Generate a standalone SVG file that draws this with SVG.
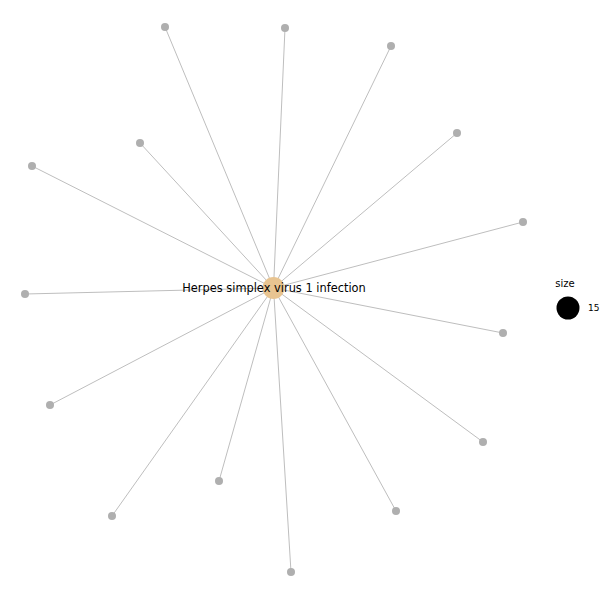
<svg xmlns="http://www.w3.org/2000/svg" width="600" height="600" viewBox="0 0 600 600">
<style>
.edge{stroke:#BEBEBE;stroke-width:1;fill:none}
.leaf{fill:#AFAFAF}
.hub{fill:#E8C491}
.lbl{font-family:"DejaVu Sans",sans-serif;font-size:11.4px;fill:#000}
.leg{font-family:"DejaVu Sans",sans-serif;fill:#000}
</style>
<rect width="600" height="600" fill="#fff"/>
<g id="edges">
<line class="edge" x1="273.5" y1="288" x2="165" y2="27"/>
<line class="edge" x1="273.5" y1="288" x2="285" y2="28"/>
<line class="edge" x1="273.5" y1="288" x2="391" y2="46"/>
<line class="edge" x1="273.5" y1="288" x2="457" y2="133"/>
<line class="edge" x1="273.5" y1="288" x2="523" y2="222"/>
<line class="edge" x1="273.5" y1="288" x2="503" y2="333"/>
<line class="edge" x1="273.5" y1="288" x2="483" y2="442"/>
<line class="edge" x1="273.5" y1="288" x2="396" y2="511"/>
<line class="edge" x1="273.5" y1="288" x2="291" y2="572"/>
<line class="edge" x1="273.5" y1="288" x2="219" y2="481"/>
<line class="edge" x1="273.5" y1="288" x2="112" y2="516"/>
<line class="edge" x1="273.5" y1="288" x2="50" y2="405"/>
<line class="edge" x1="273.5" y1="288" x2="25" y2="294"/>
<line class="edge" x1="273.5" y1="288" x2="32" y2="166"/>
<line class="edge" x1="273.5" y1="288" x2="140" y2="143"/>
</g>
<g id="n1"><circle class="leaf" cx="165" cy="27" r="4"/></g>
<g id="n2"><circle class="leaf" cx="285" cy="28" r="4"/></g>
<g id="n3"><circle class="leaf" cx="391" cy="46" r="4"/></g>
<g id="n4"><circle class="leaf" cx="457" cy="133" r="4"/></g>
<g id="n5"><circle class="leaf" cx="523" cy="222" r="4"/></g>
<g id="n6"><circle class="leaf" cx="503" cy="333" r="4"/></g>
<g id="n7"><circle class="leaf" cx="483" cy="442" r="4"/></g>
<g id="n8"><circle class="leaf" cx="396" cy="511" r="4"/></g>
<g id="n9"><circle class="leaf" cx="291" cy="572" r="4"/></g>
<g id="n10"><circle class="leaf" cx="219" cy="481" r="4"/></g>
<g id="n11"><circle class="leaf" cx="112" cy="516" r="4"/></g>
<g id="n12"><circle class="leaf" cx="50" cy="405" r="4"/></g>
<g id="n13"><circle class="leaf" cx="25" cy="294" r="4"/></g>
<g id="n14"><circle class="leaf" cx="32" cy="166" r="4"/></g>
<g id="n15"><circle class="leaf" cx="140" cy="143" r="4"/></g>
<g id="hub">
<circle class="hub" cx="273.5" cy="288" r="11"/>
<text class="lbl" x="274" y="292" text-anchor="middle">Herpes simplex virus 1 infection</text>
</g>
<g id="legend">
<text class="leg" x="565" y="287" font-size="10" text-anchor="middle">size</text>
<circle cx="568" cy="308" r="11.5" fill="#000"/>
<text class="leg" x="588" y="311" font-size="9">15</text>
</g>
</svg>
